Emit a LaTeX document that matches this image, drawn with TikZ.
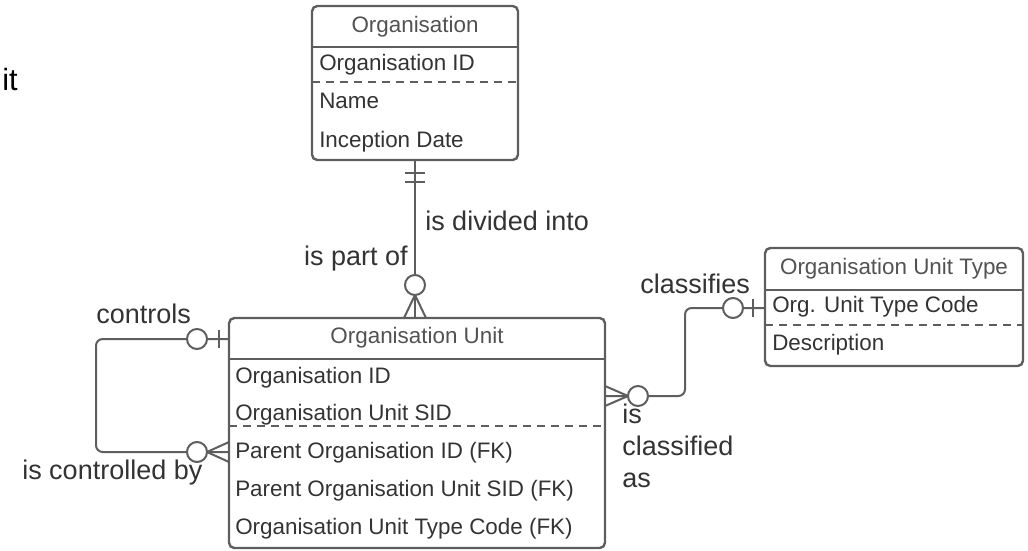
\documentclass[tikz,border=0pt]{standalone}
\usepackage{fontspec}
\setmainfont{Liberation Sans}
\usetikzlibrary{calc}
\definecolor{linegray}{HTML}{5E5E5E}
\definecolor{txtgray}{HTML}{333333}
\begin{document}
\begin{tikzpicture}[x=0.75pt, y=-0.75pt,
  entity/.style={draw=linegray, line width=1.8pt, rounded corners=4pt, inner sep=0pt, outer sep=0pt},
  divider/.style={draw=linegray, line width=1.6pt},
  keyline/.style={draw=linegray, line width=1.1pt, dash pattern=on 6pt off 4.5pt},
  title/.style={text=txtgray!85, font=\fontsize{16.8pt}{20pt}\selectfont, inner sep=0pt, anchor=base},
  field/.style={text=txtgray, font=\fontsize{16.8pt}{20pt}\selectfont, inner sep=0pt, anchor=base west},
  conn/.style={draw=linegray, line width=1.5pt},
  role/.style={text=txtgray, font=\fontsize{20.25pt}{24pt}\selectfont, inner sep=0pt, anchor=base west},
]
  \useasboundingbox (0,0) rectangle (1028,550);

  % stray text at the top left
  \node[anchor=base west, inner sep=0pt, font=\fontsize{23pt}{28pt}\selectfont] (it) at (2,90) {it};

  % Organisation
  \node[entity, minimum width=154.5pt, minimum height=115.5pt] (org) at (415,83) {};
  \draw[divider] (org.west |- 0,47) -- (org.east |- 0,47);
  \draw[keyline] (org.west |- 0,82) -- (org.east |- 0,82);
  \node[title] (orgtitle) at (415,32) {Organisation};
  \foreach \txt [count=\i] in {{Organisation ID}, {Name}, {Inception Date}} {
    \node[field] (o\i) at (319, {70+38.5*(\i-1)}) {\txt};
  }

  % Organisation Unit
  \node[entity, minimum width=282pt, minimum height=172.5pt] (unit) at (417,433) {};
  \draw[divider] (unit.west |- 0,359) -- (unit.east |- 0,359);
  \draw[keyline] (unit.west |- 0,426) -- (unit.east |- 0,426);
  \node[title] (unittitle) at (417,343) {Organisation Unit};
  \foreach \txt [count=\i] in {{Organisation ID}, {Organisation Unit SID}, {Parent Organisation ID (FK)}, {Parent Organisation Unit SID (FK)}, {Organisation Unit Type Code (FK)}} {
    \node[field] (u\i) at (235, {383+37.8*(\i-1)}) {\txt};
  }

  % Organisation Unit Type
  \node[entity, minimum width=193.5pt, minimum height=88.5pt] (type) at (894,307) {};
  \draw[divider] (type.west |- 0,290) -- (type.east |- 0,290);
  \draw[keyline] (type.west |- 0,325) -- (type.east |- 0,325);
  \node[title] (typetitle) at (894,274) {Organisation Unit Type};
  \node[field] (t1) at (772,312) {Org. Unit Type Code};
  \node[field] (t2) at (772,350) {Description};

  % role names
  \node[role] (divided) at (425,230) {is divided into};
  \node[role, anchor=base east] (partof) at (408,265) {is part of};
  \node[role] (controls) at (96,323) {controls};
  \node[role] (controlledby) at (22,479) {is controlled by};
  \node[role] (classifies) at (640,293) {classifies};
  \node[role] (isl) at (622,423) {is};
  \node[role] (classified) at (622,455) {classified};
  \node[role] (asl) at (622,487) {as};

  % Organisation -- Organisation Unit
  \coordinate (ou) at (org.south |- unit.north);
  \draw[conn] (org.south) -- (ou);
  \draw[conn] ($(org.south)+(-10,13)$) -- +(20,0);
  \draw[conn] ($(org.south)+(-10,22)$) -- +(20,0);
  \draw[conn] ($(ou)+(0,-23)$) -- ($(ou)+(-11,0)$) ($(ou)+(0,-23)$) -- ($(ou)+(11,0)$);
  \draw[conn, fill=white] ($(ou)+(0,-33)$) circle (7.5pt);

  % Organisation Unit controls Organisation Unit
  \coordinate (ctl) at ($(unit.north west)+(0,21)$);
  \coordinate (cby) at ($(unit.north west)+(0,134)$);
  \draw[conn, rounded corners=5pt] (ctl) -- ++(-133,0) |- (cby);
  \draw[conn] ($(ctl)+(-10,-9)$) -- +(0,18);
  \draw[conn, fill=white] ($(ctl)+(-32,0)$) circle (7.5pt);
  \draw[conn] ($(cby)+(-22,0)$) -- ($(cby)+(0,-10)$) ($(cby)+(-22,0)$) -- ($(cby)+(0,10)$);
  \draw[conn, fill=white] ($(cby)+(-32,0)$) circle (7.5pt);

  % Organisation Unit Type -- Organisation Unit
  \coordinate (cls) at ($(unit.north east)+(0,78)$);
  \coordinate (typ) at ($(type.north west)+(0,60)$);
  \draw[conn, rounded corners=5pt] (cls) -- ++(80,0) |- (typ);
  \draw[conn] ($(cls)+(23,0)$) -- ($(cls)+(0,-10)$) ($(cls)+(23,0)$) -- ($(cls)+(0,10)$);
  \draw[conn, fill=white] ($(cls)+(33,0)$) circle (7.5pt);
  \draw[conn] ($(typ)+(-12,-9)$) -- +(0,18);
  \draw[conn, fill=white] ($(typ)+(-32,0)$) circle (7.5pt);
\end{tikzpicture}
\end{document}
